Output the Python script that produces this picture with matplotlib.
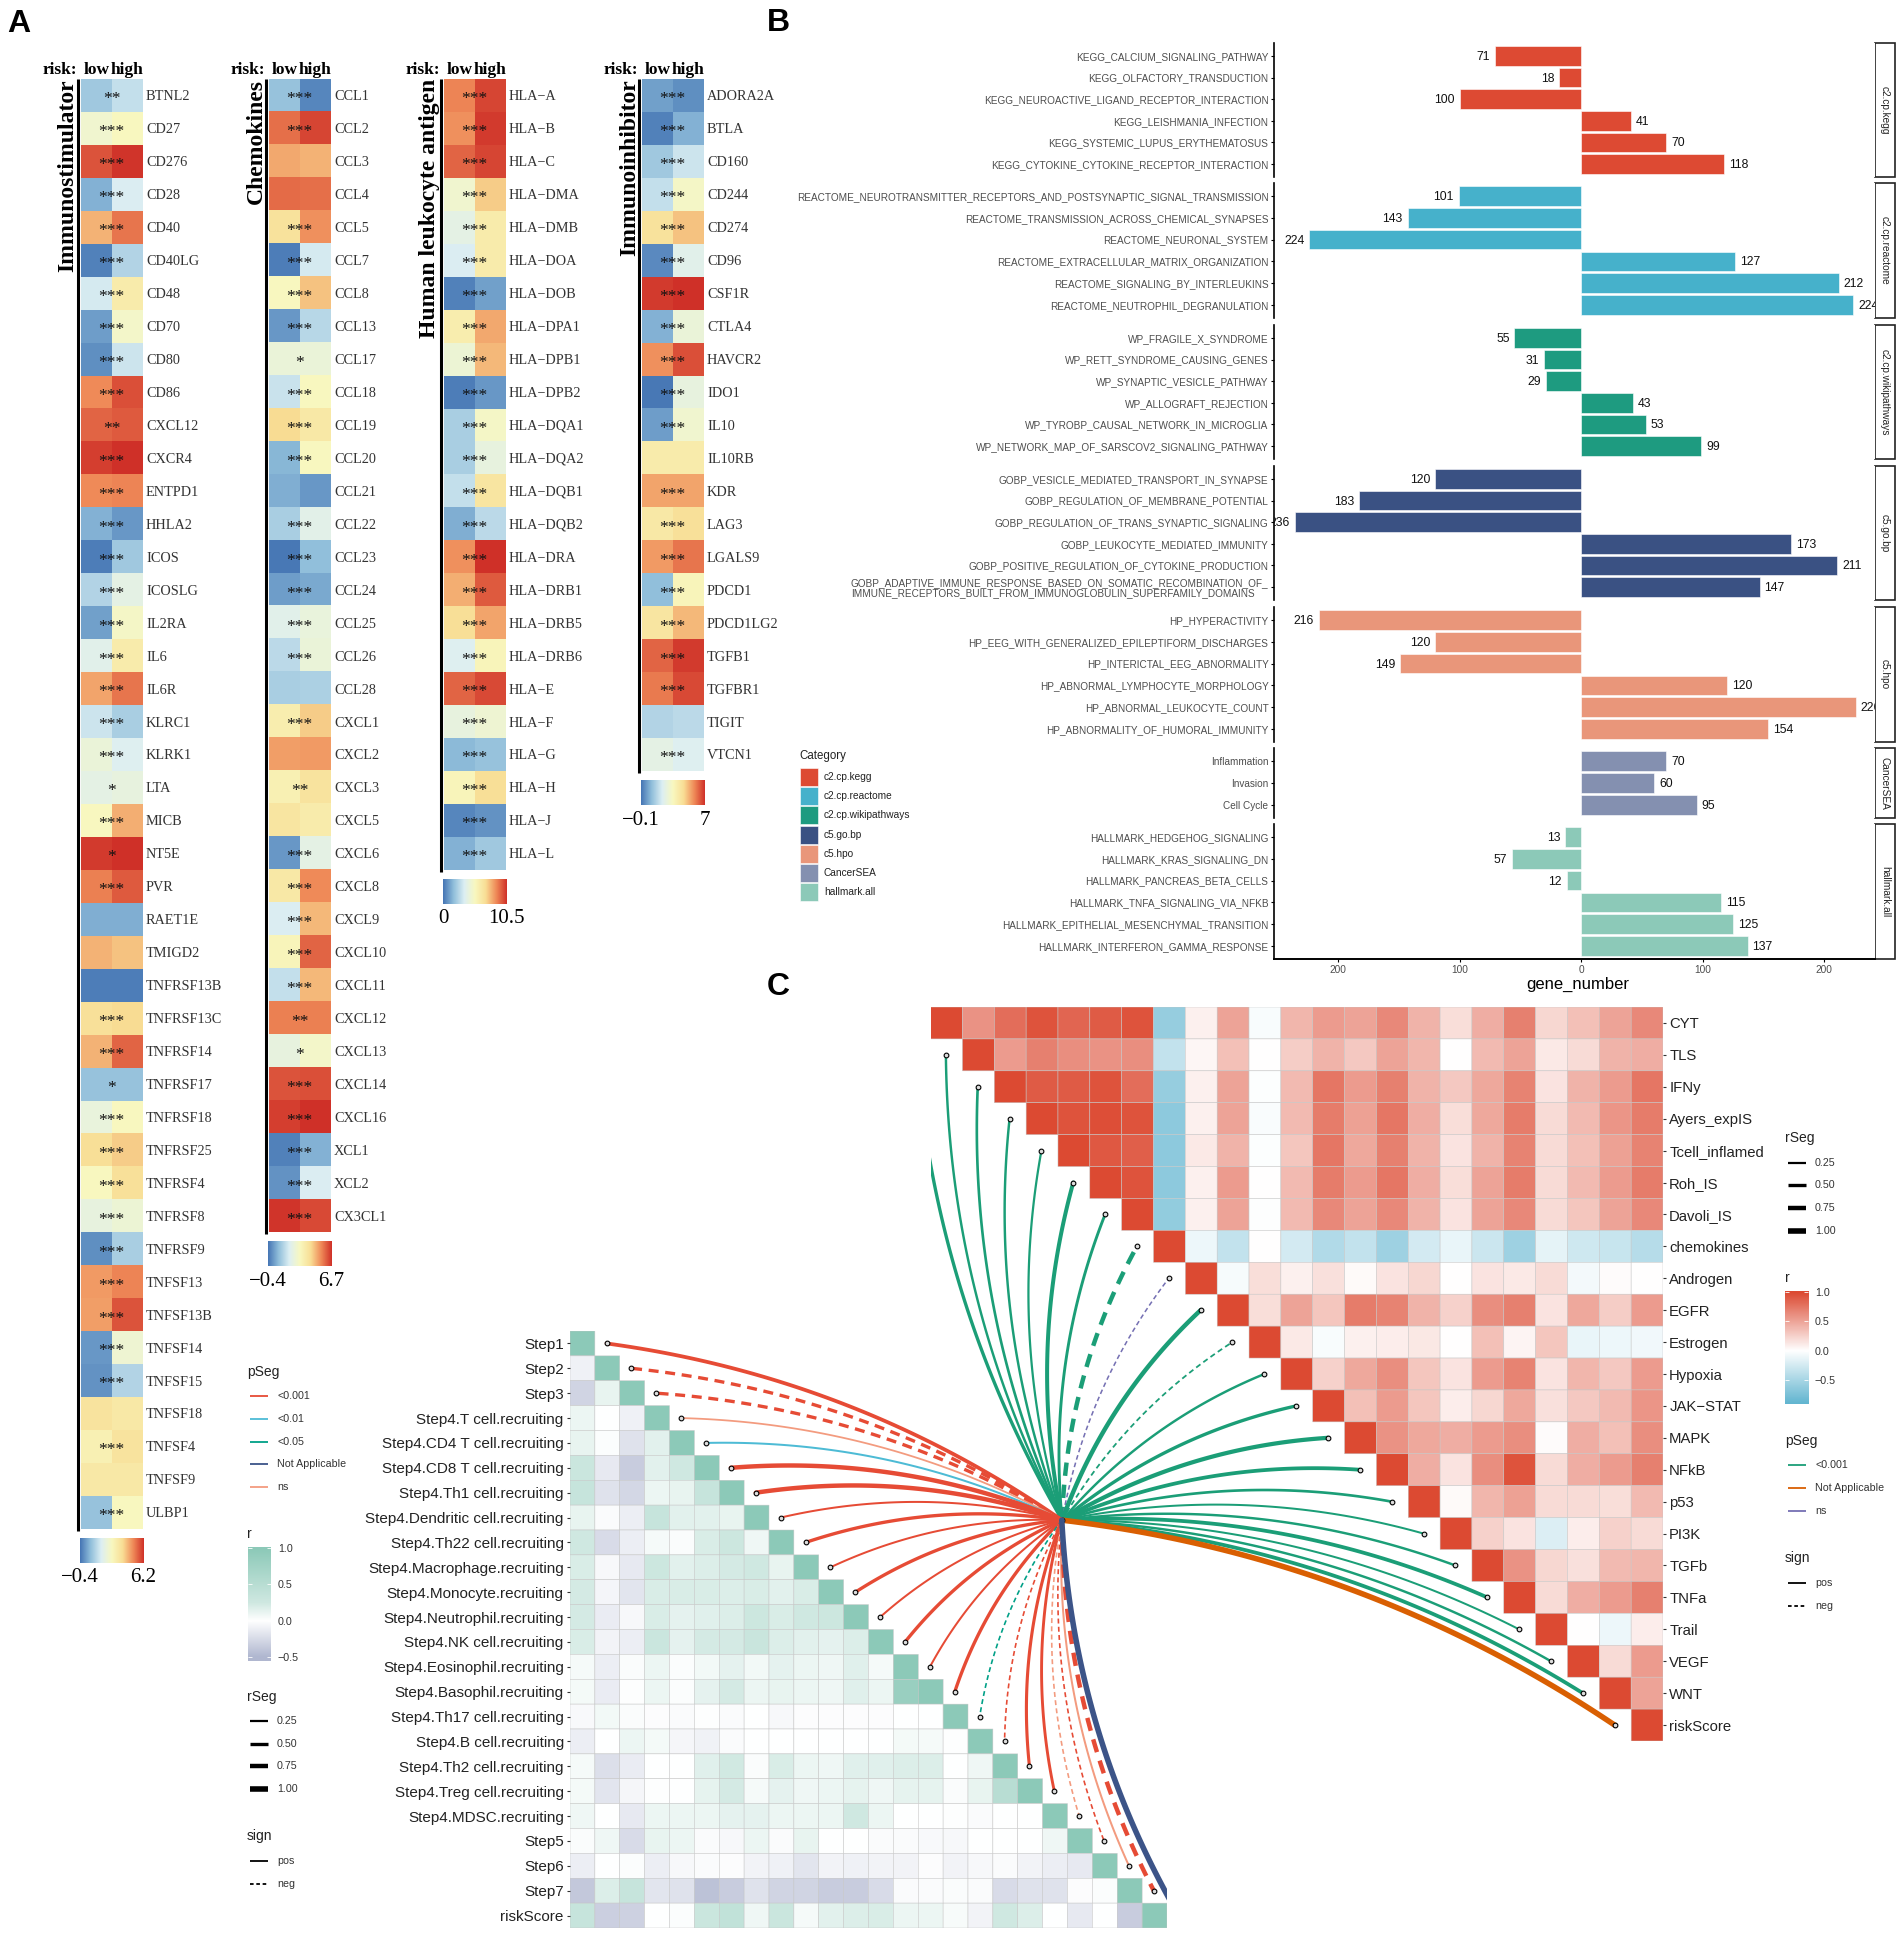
import numpy as np
import matplotlib
matplotlib.use('Agg')
import matplotlib.pyplot as plt
from matplotlib.colors import LinearSegmentedColormap, TwoSlopeNorm
from matplotlib.patches import Rectangle

W, H = 1902, 1935
SERIF = 'Liberation Serif'
SANS = 'Liberation Sans'
plt.rcParams['font.family'] = [SANS, 'DejaVu Sans']

# panel A: levels are positions on the colour bar, 0 = bar start, 100 = bar end
stim_genes = ['BTNL2','CD27','CD276','CD28','CD40','CD40LG','CD48','CD70','CD80','CD86','CXCL12','CXCR4','ENTPD1','HHLA2','ICOS','ICOSLG','IL2RA','IL6','IL6R','KLRC1','KLRK1','LTA','MICB','NT5E','PVR','RAET1E','TMIGD2','TNFRSF13B','TNFRSF13C','TNFRSF14','TNFRSF17','TNFRSF18','TNFRSF25','TNFRSF4','TNFRSF8','TNFRSF9','TNFSF13','TNFSF13B','TNFSF14','TNFSF15','TNFSF18','TNFSF4','TNFSF9','ULBP1']
stim_low = [20,45,93,14,75,3,32,9,6,83,90,97,83,14,2,24,10,36,78,30,42,38,50,98,85,13,75,2,65,75,18,41,66,50,40,6,80,79,8,7,63,55,60,18]
stim_high = [28,50,99,33,87,24,58,47,30,94,92,100,84,8,20,38,48,58,87,22,34,40,76,100,92,13,72,2,67,90,18,50,70,65,43,22,84,93,44,24,60,63,60,50]
stim_sig = ['**','***','***','***','***','***','***','***','***','***','**','***','***','***','***','***','***','***','***','***','***','*','***','*','***','','','','***','***','*','***','***','***','***','***','***','***','***','***','','***','','***']

chem_genes = ['CCL1','CCL2','CCL3','CCL4','CCL5','CCL7','CCL8','CCL13','CCL17','CCL18','CCL19','CCL20','CCL21','CCL22','CCL23','CCL24','CCL25','CCL26','CCL28','CXCL1','CXCL2','CXCL3','CXCL5','CXCL6','CXCL8','CXCL9','CXCL10','CXCL11','CXCL12','CXCL13','CXCL14','CXCL16','XCL1','XCL2','CX3CL1']
chem_low = [18,88,77,89,64,2,50,8,42,29,67,15,13,22,1,9,36,26,22,57,79,55,62,8,60,33,52,28,85,40,93,97,3,7,99]
chem_high = [4,96,75,88,82,32,72,25,42,50,60,50,8,37,17,12,41,42,23,70,80,63,58,38,83,74,90,74,85,47,94,100,14,33,95]
chem_sig = ['***','***','','','***','***','***','***','*','***','***','***','','***','***','***','***','***','','***','','**','','***','***','***','***','***','**','*','***','***','***','***','***']

hla_genes = ['HLA-A','HLA-B','HLA-C','HLA-DMA','HLA-DMB','HLA-DOA','HLA-DOB','HLA-DPA1','HLA-DPB1','HLA-DPB2','HLA-DQA1','HLA-DQA2','HLA-DQB1','HLA-DQB2','HLA-DRA','HLA-DRB1','HLA-DRB5','HLA-DRB6','HLA-E','HLA-F','HLA-G','HLA-H','HLA-J','HLA-L']
hla_low = [84,82,90,45,38,33,3,57,43,2,22,22,28,13,82,76,66,34,90,40,16,52,4,14]
hla_high = [96,98,96,70,58,58,10,77,74,8,48,40,62,26,100,92,78,52,95,44,18,66,7,20]
hla_sig = ['***'] * 24

inhib_genes = ['ADORA2A','BTLA','CD160','CD244','CD274','CD96','CSF1R','CTLA4','HAVCR2','IDO1','IL10','IL10RB','KDR','LAG3','LGALS9','PDCD1','PDCD1LG2','TGFB1','TGFBR1','TIGIT','VTCN1']
inhib_low = [10,3,20,28,64,5,98,14,82,1,9,58,78,60,80,17,62,90,86,24,38]
inhib_high = [6,14,30,48,72,36,100,42,94,40,45,58,78,65,87,52,74,98,95,26,34]
inhib_sig = ['***','***','***','***','***','***','***','***','***','***','***','','***','***','***','***','***','***','***','','***']

# panel B
bar_cats = ['c2.cp.kegg','c2.cp.reactome','c2.cp.wikipathways','c5.go.bp','c5.hpo','CancerSEA','hallmark.all']
bar_colors = ['#DD4A33','#46B1CB','#1E9B80','#3A5183','#E9967A','#8490B0','#8CC9B8']
bar_terms = [
    ['KEGG_CALCIUM_SIGNALING_PATHWAY','KEGG_OLFACTORY_TRANSDUCTION','KEGG_NEUROACTIVE_LIGAND_RECEPTOR_INTERACTION','KEGG_LEISHMANIA_INFECTION','KEGG_SYSTEMIC_LUPUS_ERYTHEMATOSUS','KEGG_CYTOKINE_CYTOKINE_RECEPTOR_INTERACTION'],
    ['REACTOME_NEUROTRANSMITTER_RECEPTORS_AND_POSTSYNAPTIC_SIGNAL_TRANSMISSION','REACTOME_TRANSMISSION_ACROSS_CHEMICAL_SYNAPSES','REACTOME_NEURONAL_SYSTEM','REACTOME_EXTRACELLULAR_MATRIX_ORGANIZATION','REACTOME_SIGNALING_BY_INTERLEUKINS','REACTOME_NEUTROPHIL_DEGRANULATION'],
    ['WP_FRAGILE_X_SYNDROME','WP_RETT_SYNDROME_CAUSING_GENES','WP_SYNAPTIC_VESICLE_PATHWAY','WP_ALLOGRAFT_REJECTION','WP_TYROBP_CAUSAL_NETWORK_IN_MICROGLIA','WP_NETWORK_MAP_OF_SARSCOV2_SIGNALING_PATHWAY'],
    ['GOBP_VESICLE_MEDIATED_TRANSPORT_IN_SYNAPSE','GOBP_REGULATION_OF_MEMBRANE_POTENTIAL','GOBP_REGULATION_OF_TRANS_SYNAPTIC_SIGNALING','GOBP_LEUKOCYTE_MEDIATED_IMMUNITY','GOBP_POSITIVE_REGULATION_OF_CYTOKINE_PRODUCTION','GOBP_ADAPTIVE_IMMUNE_RESPONSE_BASED_ON_SOMATIC_RECOMBINATION_OF_\nIMMUNE_RECEPTORS_BUILT_FROM_IMMUNOGLOBULIN_SUPERFAMILY_DOMAINS'],
    ['HP_HYPERACTIVITY','HP_EEG_WITH_GENERALIZED_EPILEPTIFORM_DISCHARGES','HP_INTERICTAL_EEG_ABNORMALITY','HP_ABNORMAL_LYMPHOCYTE_MORPHOLOGY','HP_ABNORMAL_LEUKOCYTE_COUNT','HP_ABNORMALITY_OF_HUMORAL_IMMUNITY'],
    ['Inflammation','Invasion','Cell Cycle'],
    ['HALLMARK_HEDGEHOG_SIGNALING','HALLMARK_KRAS_SIGNALING_DN','HALLMARK_PANCREAS_BETA_CELLS','HALLMARK_TNFA_SIGNALING_VIA_NFKB','HALLMARK_EPITHELIAL_MESENCHYMAL_TRANSITION','HALLMARK_INTERFERON_GAMMA_RESPONSE'],
]
bar_vals = [
    [-71,-18,-100,41,70,118],
    [-101,-143,-224,127,212,224],
    [-55,-31,-29,43,53,99],
    [-120,-183,-236,173,211,147],
    [-216,-120,-149,120,226,154],
    [70,60,95],
    [-13,-57,-12,115,125,137],
]
facet_top = [43,183,325,466,607,748,824]
facet_bot = [177,318,459,600,742,818,959]

# panel C, upper triangle
up_names = ['CYT','TLS','IFNy','Ayers_expIS','Tcell_inflamed','Roh_IS','Davoli_IS','chemokines','Androgen','EGFR','Estrogen','Hypoxia','JAK-STAT','MAPK','NFkB','p53','PI3K','TGFb','TNFa','Trail','VEGF','WNT','riskScore']
up_r = [
    [1,.6,.8,.95,.85,.9,.95,-.6,.08,.5,-.04,.4,.55,.5,.65,.42,.18,.45,.7,.22,.35,.5,.65],
    [1,.55,.7,.62,.6,.62,-.35,.05,.35,0,.28,.42,.3,.5,.4,0,.38,.5,.12,.2,.42,.45],
    [1,.9,.9,.95,.8,-.6,.08,.5,-.02,.38,.75,.55,.7,.42,.3,.48,.68,.15,.42,.55,.75],
    [1,.95,.97,.95,-.65,.08,.5,-.03,.38,.72,.52,.75,.45,.18,.48,.72,.2,.38,.58,.72],
    [1,.92,.88,-.65,.12,.42,-.02,.32,.75,.48,.7,.42,.15,.42,.68,.2,.35,.52,.68],
    [1,.95,-.65,.08,.55,0,.38,.72,.55,.75,.45,.18,.5,.72,.2,.38,.55,.72],
    [1,-.62,.08,.5,-.01,.38,.65,.5,.65,.42,.15,.5,.65,.2,.32,.5,.65],
    [1,-.1,-.35,0,-.25,-.45,-.35,-.55,-.25,-.12,-.3,-.55,-.15,-.28,-.32,-.42],
    [1,-.05,.18,.08,.17,.03,.15,.22,0,.15,.12,.2,-.07,.02,0],
    [1,.18,.5,.32,.72,.68,.42,.25,.62,.7,.15,.48,.28,.55],
    [1,.12,-.04,.08,.1,.13,0,.35,.06,.32,-.12,-.1,-.08],
    [1,.25,.48,.62,.32,.15,.55,.68,.15,.4,.3,.55],
    [1,.35,.55,.32,.1,.22,.48,.17,.3,.38,.58],
    [1,.6,.48,.45,.55,.62,.02,.45,.35,.62],
    [1,.45,.15,.62,.95,.2,.45,.55,.7],
    [1,.03,.4,.52,.2,.2,.18,.38],
    [1,.25,.15,-.2,.1,.25,.2],
    [1,.6,.22,.17,.38,.4],
    [1,.2,.45,.55,.7],
    [1,0,-.1,.1],
    [1,.2,.55],
    [1,.5],
    [1],
]
up_rseg = [.5,.3,.35,.3,.25,.65,.4,.75,.1,.75,.15,.3,.5,.7,.6,.35,.2,.3,.6,.2,.3,.6,1]
up_pseg = ['<0.001']*8 + ['ns','<0.001','<0.001'] + ['<0.001']*11 + ['Not Applicable']
up_sign = ['pos']*7 + ['neg','neg','pos','neg'] + ['pos']*12

# panel C, lower triangle
lo_names = ['Step1','Step2','Step3','Step4.T cell.recruiting','Step4.CD4 T cell.recruiting','Step4.CD8 T cell.recruiting','Step4.Th1 cell.recruiting','Step4.Dendritic cell.recruiting','Step4.Th22 cell.recruiting','Step4.Macrophage.recruiting','Step4.Monocyte.recruiting','Step4.Neutrophil.recruiting','Step4.NK cell.recruiting','Step4.Eosinophil.recruiting','Step4.Basophil.recruiting','Step4.Th17 cell.recruiting','Step4.B cell.recruiting','Step4.Th2 cell.recruiting','Step4.Treg cell.recruiting','Step4.MDSC.recruiting','Step5','Step6','Step7','riskScore']
lo_r = [
    [1],
    [-.1,1],
    [-.3,.12,1],
    [.1,0,-.1,1],
    [.12,.02,-.2,.15,1],
    [.3,-.15,-.35,.15,.25,1],
    [.35,-.2,-.28,.1,.12,.35,1],
    [.12,-.03,-.12,.35,.15,.15,.12,1],
    [.25,-.25,-.12,.05,.03,.2,.28,.08,1],
    [.2,-.05,-.15,.28,.15,.18,.22,.25,.12,1],
    [.22,-.07,-.18,.2,.2,.2,.18,.2,.15,.2,1],
    [.22,-.13,-.05,.2,.14,.16,.18,.28,.2,.25,.28,1],
    [.2,-.08,-.12,.3,.14,.22,.22,.32,.18,.15,.14,.18,1],
    [.05,-.12,.03,.1,.02,.07,.14,.07,.14,.1,.08,.16,.05,1],
    [.06,-.13,.01,.1,.02,.14,.22,.1,.12,.1,.08,.16,.1,.85,1],
    [-.04,.07,.03,-.02,-.03,-.01,-.03,0,-.05,-.02,-.02,-.02,-.02,0,0,1],
    [-.12,0,.1,.06,-.06,-.09,-.03,0,0,0,0,0,0,.06,.05,.01,1],
    [.05,-.22,-.13,0,0,.16,.24,.03,.2,.1,.08,.16,.16,.18,.18,0,.08,1],
    [.06,-.18,-.06,.01,0,.13,.22,.05,.14,.08,.1,.13,.08,.13,.13,.03,.12,.5,1],
    [.08,0,-.15,.1,.1,.1,.14,.14,.1,.1,.1,.25,.1,0,0,-.01,-.03,0,0,1],
    [.03,.08,-.25,.12,.1,-.03,-.05,.1,-.03,.12,0,0,-.03,-.03,-.04,-.05,0,0,0,.08,1],
    [-.12,0,.02,-.12,-.05,-.03,-.02,-.08,-.1,-.18,-.08,-.1,-.08,-.08,-.02,-.08,-.05,-.03,-.08,-.12,-.15,1],
    [-.38,.18,.35,-.18,-.2,-.42,-.35,-.2,-.3,-.3,-.35,-.35,-.25,-.03,-.03,.03,-.03,-.25,-.2,-.2,-.02,.02,1],
    [.35,-.33,-.32,0,.02,.3,.4,.08,.3,.05,.15,.18,.2,.1,.1,.04,-.08,.25,.18,0,-.15,0,-.35,1],
]
lo_rseg = [.6,.5,.5,.15,.2,.75,.75,.2,.5,.2,.5,.2,.5,.2,.5,.12,.12,.45,.4,.12,.12,.2,.75,1]
lo_pseg = ['<0.001']*3 + ['ns','<0.01'] + ['<0.001']*10 + ['<0.05','<0.001','<0.001','<0.001','ns','<0.001','ns','<0.001','Not Applicable']
lo_sign = ['pos','neg','neg'] + ['pos']*12 + ['neg','neg','pos','pos','neg','neg','pos','neg','pos']

up_link_colors = {'<0.001':'#1b9e77','Not Applicable':'#d95f02','ns':'#7570b3'}
lo_link_colors = {'<0.001':'#E64B35','<0.01':'#4DBBD5','<0.05':'#00A087','Not Applicable':'#3C5488','ns':'#F39B7F'}
rseg_levels = [.25,.5,.75,1]

def seg_lw(r):
    return .8 + 3.2*r

fig = plt.figure(figsize=(W/100, H/100), dpi=100)

def box(x0, y0, x1, y1, **kw):
    return fig.add_axes([x0/W, 1-y1/H, (x1-x0)/W, (y1-y0)/H], **kw)

# whole page axes in pixels, for labels and legends
page = box(0, 0, W, H)
page.set_xlim(0, W)
page.set_ylim(H, 0)
page.axis('off')

page.text(19, 24, 'A', fontsize=23, fontweight='bold', ha='center', va='center')
page.text(778, 23, 'B', fontsize=23, fontweight='bold', ha='center', va='center')
page.text(778, 987, 'C', fontsize=23, fontweight='bold', ha='center', va='center')

# ---- panel A
rdylbu = LinearSegmentedColormap.from_list('rdylbu', ['#4575B4','#91BFDB','#DDEFF3','#F8F8C0','#F9DE95','#EF8A58','#CF3028'])
row_h = 32.95

def heat_a(x0, name, name_x, genes, low, high, sig, lo_txt, hi_txt):
    n = len(genes)
    y0 = 79
    y1 = y0 + n*row_h
    ax = box(x0, y0, x0+61.5, y1)
    ax.imshow(np.array([low, high]).T, cmap=rdylbu, vmin=0, vmax=100, aspect='auto')
    for s in ax.spines.values():
        s.set_visible(False)
    ax.set_xticks([])
    ax.yaxis.tick_right()
    ax.set_yticks(range(n))
    ax.set_yticklabels([g.replace('-', '\u2212') for g in genes], family=SERIF, fontsize=10.3, color='#333333')
    ax.tick_params(axis='y', length=0, pad=2.5)
    for i, s in enumerate(sig):
        if s:
            ax.annotate(s, (.5, i), xytext=(0, -2.8), textcoords='offset points', ha='center', va='center',
                        family=SERIF, fontsize=12.5, color='#111111')
    ax.text(0, -.76, 'low', family=SERIF, fontweight='bold', fontsize=12.5, ha='center', va='center')
    ax.text(1, -.76, 'high', family=SERIF, fontweight='bold', fontsize=12.5, ha='center', va='center')
    page.text(x0-4, y0-9, 'risk:', family=SERIF, fontweight='bold', fontsize=12.5, ha='right', va='center')
    page.plot([x0-3, x0-3], [y0, y1+2], color='black', lw=2.2, solid_capstyle='butt')
    page.text(name_x, y0, name, family=SERIF, fontweight='bold', fontsize=17, rotation=90, ha='center', va='top')
    cb = box(x0-1, y1+9, x0+62.5, y1+34)
    cb.imshow(np.linspace(0, 100, 256)[None, :], cmap=rdylbu, aspect='auto', extent=[0, 1, 0, 1])
    for s in cb.spines.values():
        s.set_visible(False)
    cb.set_yticks([])
    cb.set_xticks([0, 1])
    cb.set_xticklabels([lo_txt, hi_txt], family=SERIF, fontsize=15)
    cb.tick_params(axis='x', length=0, pad=4)

heat_a(81, 'Immunostimulator', 68, stim_genes, stim_low, stim_high, stim_sig, '\u22120.4', '6.2')
heat_a(269, 'Chemokines', 256, chem_genes, chem_low, chem_high, chem_sig, '\u22120.4', '6.7')
heat_a(444, 'Human leukocyte antigen', 429, hla_genes, hla_low, hla_high, hla_sig, '0', '10.5')
heat_a(642, 'Immunoinhibitor', 630, inhib_genes, inhib_low, inhib_high, inhib_sig, '\u22120.1', '7')

# ---- panel B
for k in range(7):
    ax = box(1274, facet_top[k], 1875, facet_bot[k])
    vals = bar_vals[k]
    ys = np.arange(len(vals))
    ax.barh(ys, vals, height=.9, color=bar_colors[k], edgecolor='white', linewidth=.4)
    ax.set_xlim(-253, 242)
    ax.set_ylim(len(vals)-.4, -.6)
    ax.set_yticks(ys)
    ax.set_yticklabels(bar_terms[k], fontsize=7.2, color='#4d4d4d', linespacing=1.05)
    ax.tick_params(axis='y', length=2.5, width=.8, pad=1.5)
    for lab in ax.get_yticklabels():
        if '\n' in lab.get_text():
            lab.set_multialignment('left')
    for s in ['top', 'right']:
        ax.spines[s].set_visible(False)
    ax.spines['left'].set_linewidth(1.2)
    for y, v in zip(ys, vals):
        ax.annotate(str(abs(v)), (v, y), xytext=(3.5 if v > 0 else -3.5, -.7), textcoords='offset points',
                    ha='left' if v > 0 else 'right', va='center', fontsize=8.8, color='#111111', clip_on=True)
    if k == 6:
        ax.spines['bottom'].set_linewidth(1.4)
        ax.set_xticks([-200, -100, 0, 100, 200])
        ax.set_xticklabels(['200', '100', '0', '100', '200'], fontsize=7.3, color='#4d4d4d')
        ax.tick_params(axis='x', length=2.5, width=.8, pad=2)
        ax.set_xlabel('gene_number', fontsize=12, labelpad=2)
        ax.xaxis.set_label_coords(.506, -.135)
    else:
        ax.spines['bottom'].set_visible(False)
        ax.set_xticks([])
    page.add_patch(Rectangle((1875, facet_top[k]), 20, facet_bot[k]-facet_top[k], fill=False, ec='#222222', lw=1.2))
    page.text(1885, (facet_top[k]+facet_bot[k])/2, bar_cats[k], rotation=-90, fontsize=7.3, color='#222222', ha='center', va='center')

page.text(799, 756, 'Category', fontsize=8.3, ha='left', va='center', color='#222222')
for k in range(7):
    yc = 777 + k*19.2
    page.add_patch(Rectangle((800, yc-9), 18, 18, fc=bar_colors[k], ec='white', lw=.4))
    page.text(824, yc, bar_cats[k], fontsize=7.3, ha='left', va='center', color='#222222')

# ---- panel C
up_cmap = LinearSegmentedColormap.from_list('up', ['#62B5D0', '#FFFFFF', '#DC4A32'])
up_norm = TwoSlopeNorm(vmin=-.9, vcenter=0, vmax=1)
lo_cmap = LinearSegmentedColormap.from_list('lo', [(0, '#B0B7D0'), (.5, '#FFFFFF'), (.625, '#CFE8E1'), (1, '#8CC9B8')])
lo_norm = TwoSlopeNorm(vmin=-.5, vcenter=0, vmax=1)

def link(ax, hub, end, color, r, sign, side):
    d = np.array(end) - np.array(hub)
    n = side*np.array([d[1], -d[0]])
    ctrl = np.array(hub) + d/2 + .12*n
    t = np.linspace(0, 1, 60)[:, None]
    pts = (1-t)**2*np.array(hub) + 2*t*(1-t)*ctrl + t**2*np.array(end)
    ls = (0, (3, 2)) if sign == 'neg' else '-'
    ax.plot(pts[:, 0], pts[:, 1], color=color, lw=seg_lw(r), ls=ls, solid_capstyle='round', dash_capstyle='butt', zorder=3)
    ax.plot([end[0]], [end[1]], marker='o', ms=3.4, mfc='#dddddd', mec='black', mew=.8, ls='', zorder=4)

def tri_axes(x0, y0, x1, y1, n, rows, upper, cmap, norm):
    ax = box(x0, y0, x1, y1)
    ax.patch.set_alpha(0)
    m = np.full((n, n), np.nan)
    for i, row in enumerate(rows):
        if upper:
            m[i, i:i+len(row)] = row
        else:
            m[i, :len(row)] = row
    ax.pcolor(np.arange(n+1), np.arange(n+1), np.ma.masked_invalid(m), cmap=cmap, norm=norm,
              edgecolors='#c6c6c6', linewidth=.35)
    ax.set_xlim(0, n)
    ax.set_ylim(n, 0)
    for s in ax.spines.values():
        s.set_visible(False)
    ax.set_xticks([])
    ax.set_yticks(np.arange(n)+.5)
    return ax

# right triangle
ax_up = tri_axes(930.6, 1007, 1663, 1741, 23, up_r, True, up_cmap, up_norm)
ax_up.yaxis.tick_right()
ax_up.set_yticklabels([s.replace('-', '\u2212') for s in up_names], fontsize=10.7, color='#222222')
ax_up.tick_params(axis='y', length=2.5, width=.8, pad=2, color='#333333')
hub_up = (4.13, 16.08)
for i in range(23):
    link(ax_up, hub_up, (i-.52, i+.5), up_link_colors[up_pseg[i]], up_rseg[i], up_sign[i], 1)
ax_up.plot([hub_up[0]], [hub_up[1]], marker='o', ms=3.4, mfc='#dddddd', mec='black', mew=.8, ls='', zorder=5)

# left triangle
ax_lo = tri_axes(570, 1331, 1167, 1928, 24, lo_r, False, lo_cmap, lo_norm)
ax_lo.set_yticklabels(lo_names, fontsize=11, color='#222222')
ax_lo.tick_params(axis='y', length=2.5, width=.8, pad=2, color='#333333')
hub_lo = (19.77, 7.6)
for i in range(24):
    link(ax_lo, hub_lo, (i+1.47, i+.5), lo_link_colors[lo_pseg[i]], lo_rseg[i], lo_sign[i], -1)

def legend_title(x, y, s):
    page.text(x, y, s, fontsize=10, ha='left', va='center', color='#222222')

def legend_line(x, y, label, color='black', lw=1.3, ls='-'):
    page.plot([x+3, x+21], [y, y], color=color, lw=lw, ls=ls, solid_capstyle='butt')
    page.text(x+30, y, label, fontsize=7.7, ha='left', va='center', color='#333333')

def r_bar(x0, y_one, px_per_unit, y_bot, vmin, cmap, norm):
    cb = box(x0, y_one-1, x0+23, y_bot)
    lo_v = 1 - (y_bot-y_one)/px_per_unit
    hi_v = 1 + 1/px_per_unit
    cb.imshow(np.linspace(hi_v, lo_v, 256)[:, None], cmap=cmap, norm=norm, aspect='auto', extent=[0, 1, lo_v, hi_v])
    for s in cb.spines.values():
        s.set_visible(False)
    cb.set_xticks([])
    cb.yaxis.tick_right()
    cb.set_yticks([-.5, 0, .5, 1])
    cb.set_yticklabels(['\u22120.5', '0.0', '0.5', '1.0'], fontsize=7.7, color='#333333')
    cb.tick_params(axis='y', direction='in', length=3, width=.6, color='white', left=True, right=True, pad=5)

# left legends
legend_title(247, 1372, 'pSeg')
for y, lab in zip([1396, 1419, 1442, 1464, 1487], ['<0.001', '<0.01', '<0.05', 'Not Applicable', 'ns']):
    legend_line(247, y, lab, color=lo_link_colors[lab])
legend_title(247, 1534, 'r')
r_bar(248, 1548, 72.7, 1661, -.5, lo_cmap, lo_norm)
legend_title(247, 1697, 'rSeg')
for y, r in zip([1721, 1744, 1766, 1789], rseg_levels):
    legend_line(247, y, '%.2f' % r, lw=seg_lw(r))
legend_title(247, 1836, 'sign')
legend_line(247, 1861, 'pos')
legend_line(247, 1884, 'neg', ls=(0, (2, 1.5)))

# right legends
legend_title(1785, 1138, 'rSeg')
for y, r in zip([1163, 1185, 1208, 1231], rseg_levels):
    legend_line(1785, y, '%.2f' % r, lw=seg_lw(r))
legend_title(1785, 1278, 'r')
r_bar(1785, 1292, 58.7, 1404, -.9, up_cmap, up_norm)
legend_title(1785, 1441, 'pSeg')
for y, lab in zip([1465, 1488, 1511], ['<0.001', 'Not Applicable', 'ns']):
    legend_line(1785, y, lab, color=up_link_colors[lab])
legend_title(1785, 1558, 'sign')
legend_line(1785, 1583, 'pos')
legend_line(1785, 1606, 'neg', ls=(0, (2, 1.5)))

fig.savefig('out.png', dpi=100)
